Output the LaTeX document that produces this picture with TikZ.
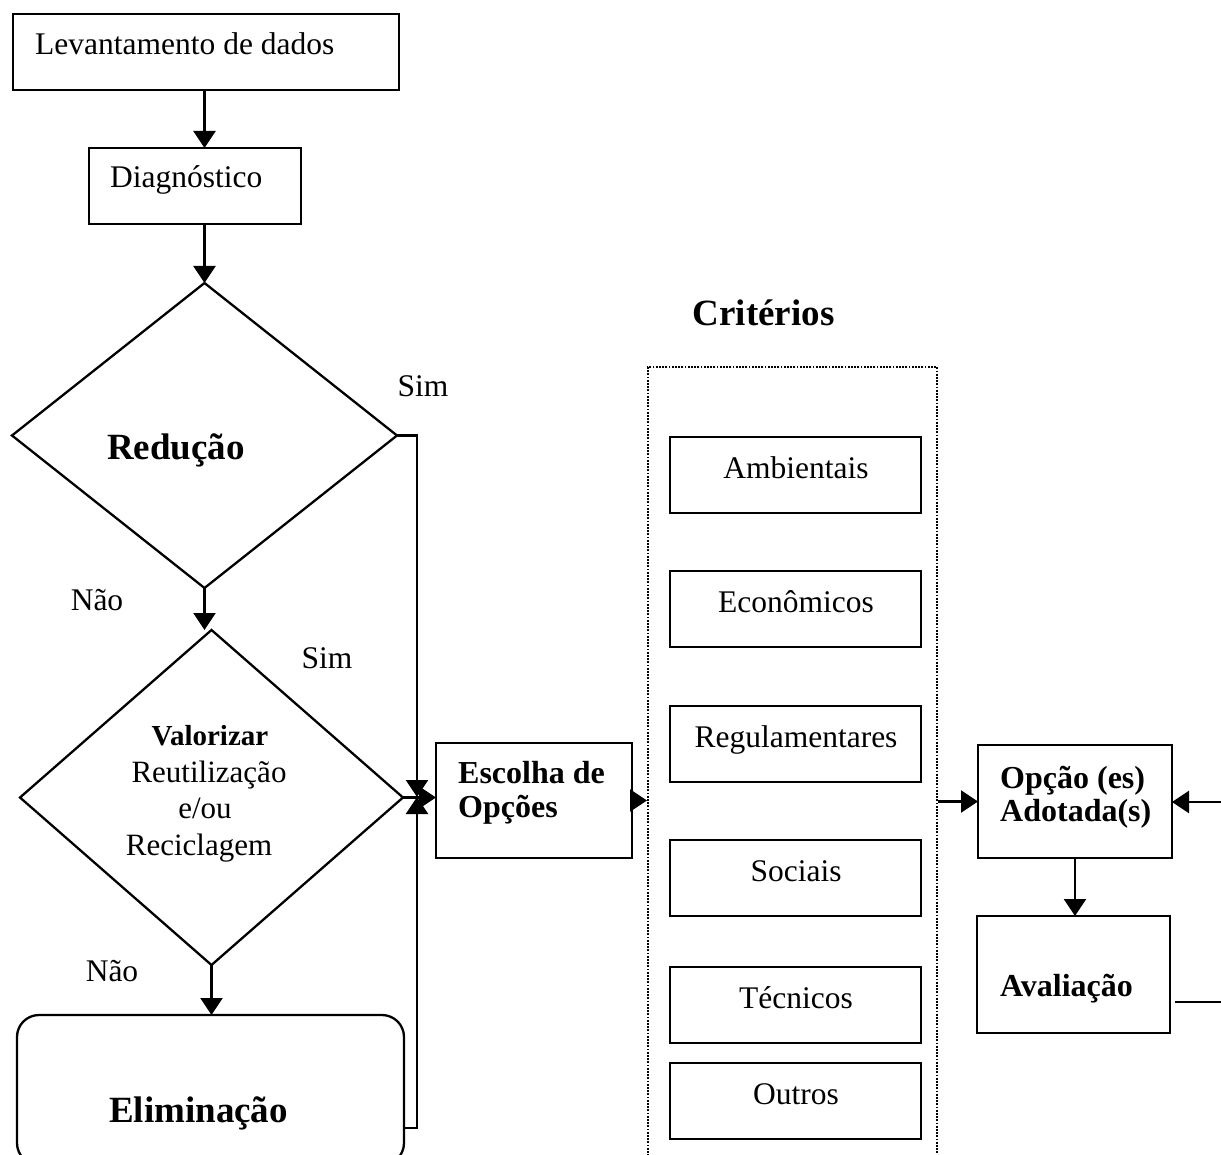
\documentclass[tikz,border=0pt]{standalone}
\usepackage{fontspec}
\setmainfont{Liberation Serif}
\usetikzlibrary{shapes.geometric,arrows.meta,calc}

\begin{document}
\begin{tikzpicture}[x=1pt,y=-1pt,
  box/.style={draw,line width=2.3pt,rectangle,inner sep=0pt,outer sep=0pt},
  dia/.style={draw,line width=2.3pt,diamond,inner sep=0pt,outer sep=0pt},
  conn/.style={line width=2.3pt},
  arr/.style={conn,-{Triangle[length=17pt,width=22pt]}},
  txt/.style={inner sep=0pt,font=\fontsize{31.5}{36}\selectfont},
  btxt/.style={inner sep=0pt,font=\fontsize{32}{35}\selectfont\bfseries},
  vtxt/.style={inner sep=0pt,font=\fontsize{31}{36}\selectfont},
  big/.style={inner sep=0pt,font=\fontsize{37}{40}\selectfont\bfseries},
]
\fill[white] (0,0) rectangle (1221,1155);
\useasboundingbox (0,0) rectangle (1221,1155);

% --- left column: survey, diagnosis, decisions
\node[box,minimum width=386pt,minimum height=76pt] (lev) at (206,52) {};
\node[txt,anchor=base west] (levT) at (35,55) {Levantamento de dados};

\node[box,minimum width=212pt,minimum height=76pt] (diag) at (195,186) {};
\node[txt,anchor=base west] (diagT) at (110,188) {Diagnóstico};

\node[dia,minimum width=385pt,minimum height=305pt] (red) at (204.5,435.5) {};
\node[big,anchor=base] (redT) at (176,459) {Redução};

\node[dia,minimum width=383pt,minimum height=335pt] (val) at (211.5,797.5) {};
\node[vtxt,anchor=base,font=\fontsize{29}{34}\selectfont\bfseries] (valA) at (210,745) {Valorizar};
\node[vtxt,anchor=base] (valB) at (209,782) {Reutilização};
\node[vtxt,anchor=base] (valC) at (205,818) {e/ou};
\node[vtxt,anchor=base] (valD) at (199,855) {Reciclagem};

\node[box,rounded corners=22pt,minimum width=387pt,minimum height=150pt] (elim) at (210.5,1090) {};
\node[big,anchor=base] (elimT) at (198.5,1122) {Eliminação};

% branch labels
\node[txt,anchor=base] (sim1) at (423,397) {Sim};
\node[txt,anchor=base] (nao1) at (97,610) {Não};
\node[txt,anchor=base] (sim2) at (327,668) {Sim};
\node[txt,anchor=base] (nao2) at (112,981) {Não};

% --- choice of options
\node[box,minimum width=196pt,minimum height=115pt] (esc) at (534,800.5) {};
\node[btxt,anchor=base west] (escA) at (458,783) {Escolha de};
\node[btxt,anchor=base west] (escB) at (458,817) {Opções};

% --- criteria panel
\node[big,anchor=base] (critT) at (763.5,326) {Critérios};
\node[draw,line width=2pt,dash pattern=on 1.8pt off 1.4pt,inner sep=0pt,
      minimum width=289pt,minimum height=798pt] (crit) at (792.5,766) {};
\foreach \n/\t/\lab in {amb/437/Ambientais, eco/571/Econômicos,
    reg/706/Regulamentares, soc/840/Sociais, tec/967/Técnicos, out/1063/Outros}{
  \node[box,minimum width=251pt,minimum height=76pt] (\n) at (795.5,\t+38) {};
  \node[txt,anchor=base] (\n-t) at (796,\t+41) {\lab};
}

% --- adopted options and evaluation
\node[box,minimum width=194pt,minimum height=113pt] (opc) at (1075,801.5) {};
\node[btxt,anchor=base west] (opcA) at (1000,788) {Opção (es)};
\node[btxt,anchor=base west] (opcB) at (1000,821) {Adotada(s)};

\node[box,minimum width=193pt,minimum height=117pt] (av) at (1073.5,974.5) {};
\node[btxt,anchor=base west] (avT) at (1000,996) {Avaliação};

% --- connectors
\coordinate (jn) at (417,797);
\coordinate (jlow) at (417,1128);
\coordinate (retin) at (1221,802);
\coordinate (avout) at (1221,1002);

\draw[arr] (red.north |- lev.south) -- (red.north |- diag.north);
\draw[arr] (red.north |- diag.south) -- (red.north);
\draw[arr] (red.south) -- (red.south |- val.north);
\draw[arr] (val.south) -- (val.south |- elim.north);

\draw[arr] (red.east) -- (red.east -| jn) -- (jn);
\draw[arr] (elim.east |- jlow) -- (jlow) -- (jn);
\draw[arr] (val.east) -- (val.east -| esc.west);

\draw[arr] (esc.east) -- (esc.east -| crit.west);
\draw[arr] (opc.west -| crit.east) -- (opc.west);
\draw[arr] (retin) -- (retin -| opc.east);
\draw[arr] (opc.south) -- (opc.south |- av.north);
\draw[conn] ($(av.east |- avout)+(5,0)$) -- (avout);
\end{tikzpicture}
\end{document}
